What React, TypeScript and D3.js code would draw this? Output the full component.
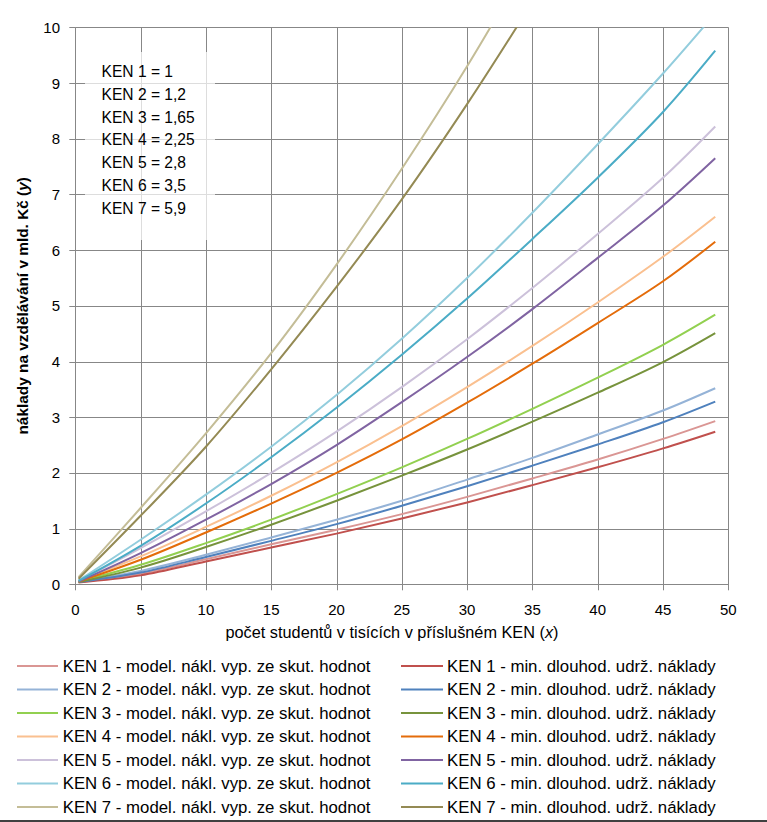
import React from "react";
import * as d3 from "d3";

const W = 767;
const H = 822;

// x positions of the read-off points (thousands of students)
const xPts = [0.25, 5, 10, 15, 20, 25, 30, 35, 40, 45, 49];
const xPts7 = [0.25, 5, 10, 15, 20, 25, 30, 35];

const ken1Model = [0.04, 0.19, 0.45, 0.72, 0.98, 1.26, 1.57, 1.9, 2.24, 2.61, 2.93];
const ken1Min = [0.03, 0.16, 0.41, 0.66, 0.91, 1.18, 1.47, 1.78, 2.1, 2.44, 2.74];
const ken2Model = [0.05, 0.24, 0.53, 0.84, 1.16, 1.5, 1.88, 2.27, 2.69, 3.12, 3.52];
const ken2Min = [0.04, 0.21, 0.49, 0.78, 1.08, 1.41, 1.76, 2.13, 2.51, 2.91, 3.28];
const ken3Model = [0.05, 0.35, 0.74, 1.16, 1.62, 2.1, 2.61, 3.15, 3.71, 4.3, 4.84];
const ken3Min = [0.04, 0.3, 0.67, 1.07, 1.5, 1.95, 2.42, 2.92, 3.44, 3.99, 4.51];
const ken4Model = [0.06, 0.5, 1.03, 1.59, 2.19, 2.84, 3.54, 4.28, 5.06, 5.88, 6.6];
const ken4Min = [0.05, 0.44, 0.93, 1.45, 2.0, 2.6, 3.26, 3.96, 4.69, 5.44, 6.15];
const ken5Model = [0.06, 0.65, 1.31, 2.0, 2.74, 3.54, 4.4, 5.32, 6.29, 7.3, 8.22];
const ken5Min = [0.05, 0.56, 1.16, 1.8, 2.5, 3.27, 4.08, 4.94, 5.86, 6.8, 7.65];
const ken6Model = [0.07, 0.8, 1.61, 2.47, 3.4, 4.41, 5.5, 6.67, 7.9, 9.17, 10.25];
const ken6Min = [0.06, 0.69, 1.45, 2.28, 3.17, 4.12, 5.13, 6.2, 7.3, 8.48, 9.58];
const ken7Model = [0.13, 1.37, 2.71, 4.15, 5.74, 7.46, 9.3, 11.3];
const ken7Min = [0.1, 1.23, 2.47, 3.86, 5.34, 6.91, 8.62, 10.45];

const seriesNames = [
  "KEN 1 - model. nákl. vyp. ze skut. hodnot",
  "KEN 1 - min. dlouhod. udrž. náklady",
  "KEN 2 - model. nákl. vyp. ze skut. hodnot",
  "KEN 2 - min. dlouhod. udrž. náklady",
  "KEN 3 - model. nákl. vyp. ze skut. hodnot",
  "KEN 3 - min. dlouhod. udrž. náklady",
  "KEN 4 - model. nákl. vyp. ze skut. hodnot",
  "KEN 4 - min. dlouhod. udrž. náklady",
  "KEN 5 - model. nákl. vyp. ze skut. hodnot",
  "KEN 5 - min. dlouhod. udrž. náklady",
  "KEN 6 - model. nákl. vyp. ze skut. hodnot",
  "KEN 6 - min. dlouhod. udrž. náklady",
  "KEN 7 - model. nákl. vyp. ze skut. hodnot",
  "KEN 7 - min. dlouhod. udrž. náklady",
];
const seriesValues = [
  ken1Model, ken1Min, ken2Model, ken2Min, ken3Model, ken3Min,
  ken4Model, ken4Min, ken5Model, ken5Min, ken6Model, ken6Min,
  ken7Model, ken7Min,
];
const seriesX = [
  xPts, xPts, xPts, xPts, xPts, xPts, xPts, xPts, xPts, xPts, xPts, xPts,
  xPts7, xPts7,
];
const seriesColors = [
  "#DA9694", "#C0504D",
  "#95B3D7", "#4F81BD",
  "#92D050", "#77933C",
  "#FAC090", "#E46C0A",
  "#CCC1DA", "#8064A2",
  "#93CDDD", "#4BACC6",
  "#C4BD97", "#948A54",
];

const kenCoefs = ["KEN 1 = 1", "KEN 2 = 1,2", "KEN 3 = 1,65", "KEN 4 = 2,25", "KEN 5 = 2,8", "KEN 6 = 3,5", "KEN 7 = 5,9"];

const xTicks = [0, 5, 10, 15, 20, 25, 30, 35, 40, 45, 50];
const yTicks = [0, 1, 2, 3, 4, 5, 6, 7, 8, 9, 10];

const FONT = "'Liberation Sans', Arial, sans-serif";
const GRID = "#878787";

export default function App() {
  const left = 75.3, right = 728.3, top = 27.3, bottom = 584.3;
  const x = d3.scaleLinear().domain([0, 50]).range([left, right]);
  const y = d3.scaleLinear().domain([0, 10]).range([bottom, top]);

  const line = d3
    .line<[number, number]>()
    .x((d) => x(d[0]))
    .y((d) => y(d[1]))
    .curve(d3.curveCatmullRom.alpha(0.5));

  const legendY0 = 666;
  const legendDy = 23.5;

  return (
    <svg width={W} height={H} style={{ position: "absolute", left: 0, top: 0, background: "#fff" }} fontFamily={FONT}>
      <defs>
        <clipPath id="plotClip">
          <rect x={left} y={top} width={right - left} height={bottom - top} />
        </clipPath>
      </defs>
      <rect x={0} y={0} width={W} height={H} fill="#fff" />

      {/* gridlines */}
      {yTicks.map((t) => (
        <line key={"gy" + t} x1={left} x2={right} y1={Math.round(y(t)) + 0.5} y2={Math.round(y(t)) + 0.5} stroke={GRID} strokeWidth={1} />
      ))}
      {xTicks.map((t) => (
        <line key={"gx" + t} x1={Math.round(x(t)) + 0.5} x2={Math.round(x(t)) + 0.5} y1={top} y2={bottom + 6} stroke={GRID} strokeWidth={1} />
      ))}
      {yTicks.map((t) => (
        <line key={"ty" + t} x1={left - 6} x2={left} y1={Math.round(y(t)) + 0.5} y2={Math.round(y(t)) + 0.5} stroke={GRID} strokeWidth={1} />
      ))}

      {/* text box with coefficients */}
      <rect x={85} y={52} width={130} height={188} fill="#fff" fillOpacity={0.72} />

      {/* series */}
      <g clipPath="url(#plotClip)">
        {seriesValues.map((vals, i) => {
          const pts: [number, number][] = vals.map((v, j) => [seriesX[i][j], v]);
          return (
            <path key={"s" + i} d={line(pts) || ""} fill="none" stroke={seriesColors[i]} strokeWidth={2} strokeLinejoin="round" />
          );
        })}
      </g>

      {kenCoefs.map((t, i) => (
        <text key={"k" + i} x={101.5} y={71.5 + i * 22.8} dominantBaseline="central" fontSize={15.6} fill="#000">
          {t}
        </text>
      ))}

      {/* tick labels */}
      {xTicks.map((t) => (
        <text key={"xl" + t} x={x(t)} y={609} textAnchor="middle" dominantBaseline="central" fontSize={15} fill="#000">
          {t}
        </text>
      ))}
      {yTicks.map((t) => (
        <text key={"yl" + t} x={60} y={y(t)} textAnchor="end" dominantBaseline="central" fontSize={15} fill="#000">
          {t}
        </text>
      ))}

      {/* axis titles */}
      <text x={392} y={632} textAnchor="middle" dominantBaseline="central" fontSize={16.3} fill="#000">
        počet studentů v tisících v příslušném KEN (<tspan fontStyle="italic">x</tspan>)
      </text>
      <text
        transform={`translate(22, ${(top + bottom) / 2}) rotate(-90)`}
        textAnchor="middle"
        dominantBaseline="central"
        fontSize={15.4}
        fontWeight="bold"
        fill="#000"
      >
        náklady na vzdělávání v mld. Kč (<tspan fontStyle="italic">y</tspan>)
      </text>

      {/* legend */}
      {seriesNames.map((name, i) => {
        const col = i % 2;
        const row = Math.floor(i / 2);
        const ly = legendY0 + row * legendDy;
        const lx0 = col === 0 ? 17 : 401;
        const lx1 = col === 0 ? 58 : 443;
        const tx = col === 0 ? 62.7 : 447;
        return (
          <g key={"lg" + i}>
            <line x1={lx0} x2={lx1} y1={ly} y2={ly} stroke={seriesColors[i]} strokeWidth={2} />
            <text x={tx} y={ly} dominantBaseline="central" fontSize={16.8} fill="#000">
              {name}
            </text>
          </g>
        );
      })}

      {/* bottom border */}
      <line x1={0} x2={W} y1={821} y2={821} stroke="#000" strokeWidth={1.5} />
    </svg>
  );
}
